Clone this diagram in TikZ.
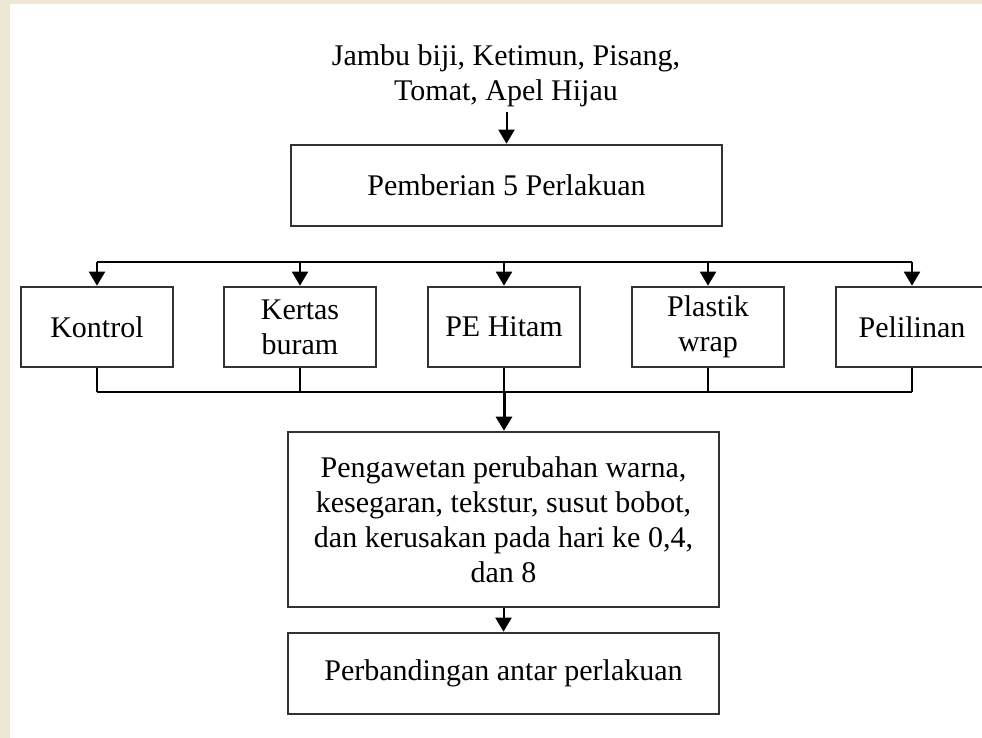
\documentclass[tikz,border=0pt]{standalone}
\usepackage{fontspec}
\setmainfont{Liberation Serif}
\usetikzlibrary{arrows.meta}
\definecolor{beige}{RGB}{239,231,214}
\definecolor{boxline}{RGB}{50,50,50}
\tikzset{
  box/.style={draw=boxline, line width=2.6pt, fill=white, inner sep=0pt, align=center,
    font=\fontsize{30}{35}\selectfont},
  wide/.style={box, minimum width=431pt},
  small/.style={box, minimum width=152pt, minimum height=80pt},
  conn/.style={line width=2pt, black},
  arr/.style={conn, -{Triangle[width=16pt,length=14pt]}},
  txt/.style={align=center, inner sep=0pt, font=\fontsize{30}{35}\selectfont}
}
\begin{document}
\begin{tikzpicture}[x=1pt,y=-1pt]
\useasboundingbox (0,0) rectangle (982,738);
\fill[beige] (0,0) rectangle (982,4);
\fill[beige] (0,0) rectangle (10,738);
\begin{scope}
\clip (10,4) rectangle (982,738);
\node[txt] (src) at (506,76) {Jambu biji, Ketimun, Pisang,\\Tomat, Apel Hijau};
\node[wide, minimum height=81pt] (pemb) at (506.5,185.5) {Pemberian 5 Perlakuan};
\node[small] (kon) at (97,327) {Kontrol};
\node[small] (ker) at (300,327) {Kertas\\buram};
\node[small] (pe) at (504,327) {PE Hitam};
\node[small] (pla) at (708,327) {Plastik\\wrap};
\node[small] (pel) at (912,327) {Pelilinan};
\node[wide, minimum height=175pt] (peng) at (503.5,519.5) {Pengawetan perubahan warna,\\kesegaran, tekstur, susut bobot,\\dan kerusakan pada hari ke 0,4,\\dan 8};
\node[wide, minimum height=81pt] (perb) at (503.5,673.5) {Perbandingan antar perlakuan};
\coordinate (bt) at (506,262);
\coordinate (bb) at (504,392);
\draw[arr] (src.south -| pemb.north) ++(0,5) -- (pemb.north);
\draw[conn] (kon.north |- bt) -- (pel.north |- bt);
\foreach \n in {kon,ker,pe,pla,pel}{
  \draw[arr] (\n.north |- bt) -- (\n.north);
  \draw[conn] (\n.south) -- (\n.south |- bb);
}
\draw[conn] (kon.south |- bb) -- (pel.south |- bb);
\draw[arr, line width=3pt] (bb) -- (peng.north -| bb);
\draw[arr] (peng.south) -- (perb.north);
\end{scope}
\end{tikzpicture}
\end{document}
